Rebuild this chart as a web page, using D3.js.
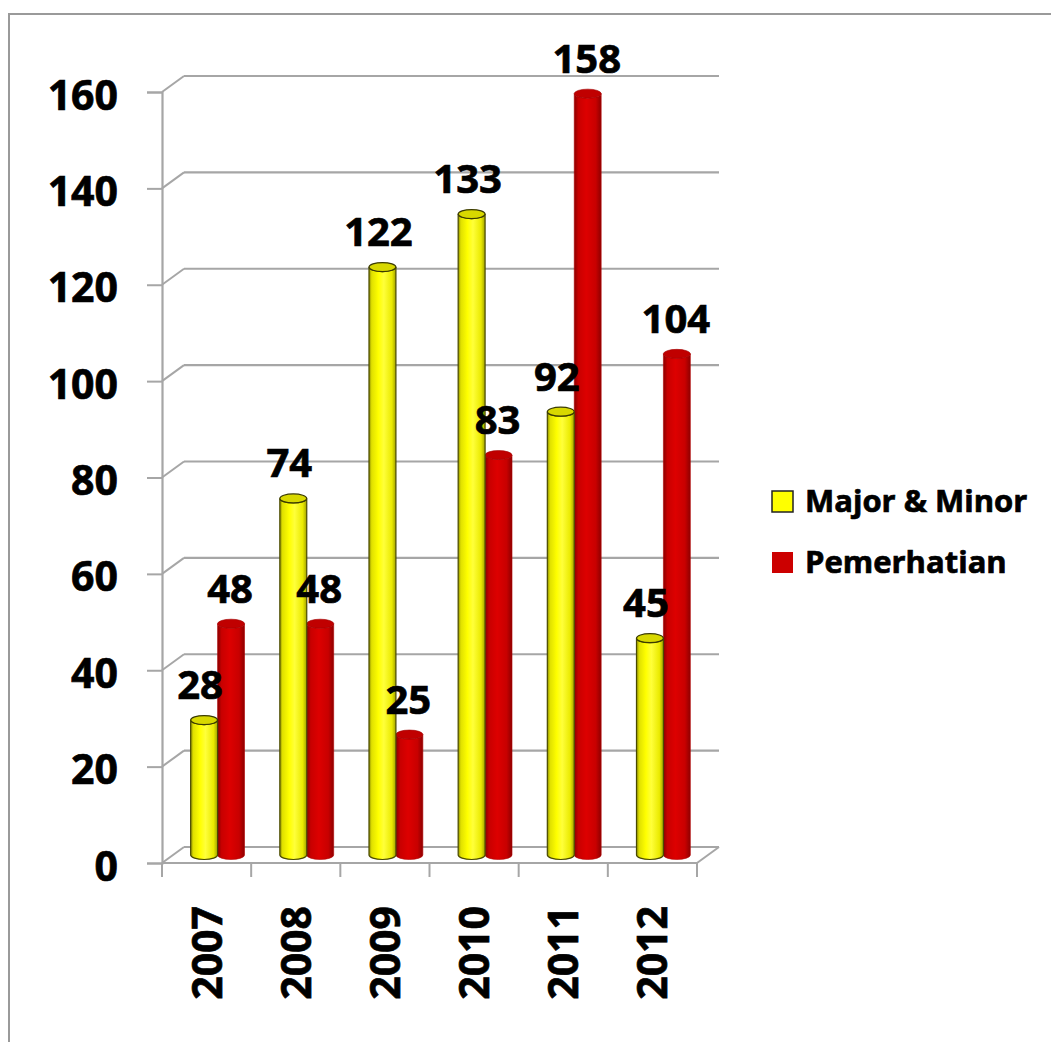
<!DOCTYPE html>
<html>
<head>
<meta charset="utf-8">
<script src="https://cdnjs.cloudflare.com/ajax/libs/d3/7.8.5/d3.min.js"></script>
<style>
	body { margin: 0; background: #fff; }
	text { font-family: "Open Sans", "Liberation Sans", sans-serif; font-weight: bold; fill: #000; stroke: #000; stroke-width: 0.7px; }
</style>
</head>
<body>
<div id="chartZone"></div>
<script>
var years = ['2007', '2008', '2009', '2010', '2011', '2012'];
var seriesNames = ['Major & Minor', 'Pemerhatian'];
var majorMinor = [28, 74, 122, 133, 92, 45];
var pemerhatian = [48, 48, 25, 83, 158, 104];
var yTicks = [0, 20, 40, 60, 80, 100, 120, 140, 160];

var width = 1051, height = 1042;
// depth of the fake 3d box
var depthX = 22, depthY = -16;

var svg = d3.select('#chartZone').append('svg')
	.attr('width', width)
	.attr('height', height);

var defs = svg.append('defs');

function addGradient(id, stops){
	var g = defs.append('linearGradient')
		.attr('id', id)
		.attr('x1', '0%').attr('x2', '100%')
		.attr('y1', '0%').attr('y2', '0%');
	g.selectAll('stop')
		.data(stops)
		.enter()
		.append('stop')
		.attr('offset', function(d){ return d[0]; })
		.attr('stop-color', function(d){ return d[1]; });
}
addGradient('gradYellow', [['0%', '#8f8f00'], ['10%', '#e0e000'], ['35%', '#ffff00'], ['55%', '#ffff3a'], ['85%', '#eaea00'], ['100%', '#a3a300']]);
addGradient('gradRed', [['0%', '#8a0000'], ['15%', '#c80000'], ['45%', '#dd0000'], ['80%', '#c80000'], ['100%', '#8e0000']]);

// outer frame
svg.append('rect')
	.attr('x', 9).attr('y', 14)
	.attr('width', 1100).attr('height', 1100)
	.attr('fill', 'none')
	.attr('stroke', '#9a9a9a')
	.attr('stroke-width', 2);

var yFront = d3.scaleLinear().domain([0, 160]).range([863, 92]);
var xBand = d3.scaleBand().domain(years).range([162, 697]);
var xInner = d3.scaleBand().domain(seriesNames)
	.range([xBand.bandwidth()*0.198, xBand.bandwidth()*0.802]);

var xLeft = xBand.range()[0], xRight = xBand.range()[1];
var gridColor = '#a6a6a6';

// back wall grid lines and left wall connectors
var grid = svg.append('g');
grid.selectAll('line.back')
	.data(yTicks)
	.enter()
	.append('line')
	.attr('x1', xLeft + depthX)
	.attr('x2', xRight + depthX)
	.attr('y1', function(d){ return yFront(d) + depthY; })
	.attr('y2', function(d){ return yFront(d) + depthY; })
	.attr('stroke', gridColor)
	.attr('stroke-width', 2.2);
grid.selectAll('line.side')
	.data(yTicks)
	.enter()
	.append('line')
	.attr('x1', xLeft)
	.attr('x2', xLeft + depthX)
	.attr('y1', function(d){ return yFront(d); })
	.attr('y2', function(d){ return yFront(d) + depthY; })
	.attr('stroke', gridColor)
	.attr('stroke-width', 2);

// floor front edge and right corner
grid.append('line')
	.attr('x1', xLeft).attr('x2', xRight)
	.attr('y1', yFront(0)).attr('y2', yFront(0))
	.attr('stroke', gridColor).attr('stroke-width', 2.2);
grid.append('line')
	.attr('x1', xRight).attr('x2', xRight + depthX)
	.attr('y1', yFront(0)).attr('y2', yFront(0) + depthY)
	.attr('stroke', gridColor).attr('stroke-width', 2);

// value axis
var yAxis = svg.append('g').attr('transform', 'translate(' + xLeft + ',0)')
	.call(d3.axisLeft(yFront).tickValues(yTicks).tickSize(15).tickPadding(30));
yAxis.select('.domain').attr('stroke', gridColor).attr('stroke-width', 2.2);
yAxis.selectAll('.tick line').attr('stroke', gridColor).attr('stroke-width', 2);
yAxis.selectAll('.tick text')
	.attr('font-size', 41)
	.attr('font-family', '"Open Sans", sans-serif')
	.attr('font-weight', 'bold')
	.attr('fill', '#000')
	.attr('dy', 17)
	.attr('x', -44);

// category axis
var xAxis = svg.append('g').attr('transform', 'translate(0,' + yFront(0) + ')')
	.call(d3.axisBottom(xBand).tickSize(0).tickPadding(0));
xAxis.select('.domain').remove();
xAxis.selectAll('.tick text')
	.attr('font-size', 41)
	.attr('font-family', '"Open Sans", sans-serif')
	.attr('font-weight', 'bold')
	.attr('fill', '#000')
	.attr('text-anchor', 'end')
	.attr('y', 0)
	.attr('dy', 0)
	.attr('transform', 'translate(15,43) rotate(-90)');
svg.append('g').selectAll('line')
	.data(d3.range(years.length + 1))
	.enter()
	.append('line')
	.attr('x1', function(d){ return xLeft + d*xBand.step(); })
	.attr('x2', function(d){ return xLeft + d*xBand.step(); })
	.attr('y1', yFront(0))
	.attr('y2', yFront(0) + 14)
	.attr('stroke', gridColor)
	.attr('stroke-width', 2);

// bars sit half way into the box
var barRows = [];
for(var i=0; i<years.length; i++){
	barRows.push({year: years[i], series: seriesNames[1], value: pemerhatian[i]});
	barRows.push({year: years[i], series: seriesNames[0], value: majorMinor[i]});
}
function barX(d){ return xBand(d.year) + depthX/2 + xInner(d.series); }
function barBase(){ return yFront(0) + depthY/2; }
function barTop(d){ return yFront(d.value) + depthY/2; }

var rx = xInner.bandwidth()/2, ry = 4.5;
function cylinderPath(d){
	var x0 = barX(d), x1 = x0 + xInner.bandwidth();
	var yt = barTop(d), yb = barBase();
	return 'M' + x0 + ',' + yt + ' L' + x0 + ',' + yb +
		' A' + rx + ',' + ry + ' 0 0 0 ' + x1 + ',' + yb +
		' L' + x1 + ',' + yt +
		' A' + rx + ',' + ry + ' 0 0 1 ' + x0 + ',' + yt + ' Z';
}

var bars = svg.append('g').selectAll('g')
	.data(barRows)
	.enter()
	.append('g');
bars.append('path')
	.attr('d', cylinderPath)
	.attr('fill', function(d){ return d.series == seriesNames[0] ? 'url(#gradYellow)' : 'url(#gradRed)'; })
	.attr('stroke', function(d){ return d.series == seriesNames[0] ? '#4a4a00' : '#b00000'; })
	.attr('stroke-width', function(d){ return d.series == seriesNames[0] ? 1.2 : 0.6; });
bars.append('ellipse')
	.attr('cx', function(d){ return barX(d) + rx; })
	.attr('cy', barTop)
	.attr('rx', rx)
	.attr('ry', ry)
	.attr('fill', function(d){ return d.series == seriesNames[0] ? '#d8d800' : '#c00000'; })
	.attr('stroke', function(d){ return d.series == seriesNames[0] ? '#3a3a00' : '#a00000'; })
	.attr('stroke-width', function(d){ return d.series == seriesNames[0] ? 1.2 : 0.6; });

// value labels on top of everything
svg.append('g').selectAll('text')
	.data(barRows)
	.enter()
	.append('text')
	.attr('x', function(d){ return barX(d) + rx - (d.series == seriesNames[0] ? 4 : 1); })
	.attr('y', function(d){ return barTop(d) - 21; })
	.attr('text-anchor', 'middle')
	.attr('font-size', 40)
	.text(function(d){ return d.value; });

// legend
var legendColors = ['#ffff00', '#cc0000'];
var legend = svg.append('g').selectAll('g')
	.data(seriesNames)
	.enter()
	.append('g')
	.attr('transform', function(d, i){ return 'translate(772,' + (491 + i*61) + ')'; });
legend.append('rect')
	.attr('width', 21)
	.attr('height', 21)
	.attr('fill', function(d, i){ return legendColors[i]; })
	.attr('stroke', function(d, i){ return i == 0 ? '#222' : 'none'; })
	.attr('stroke-width', 1.5);
legend.append('text')
	.attr('x', 33)
	.attr('y', 21)
	.attr('font-size', 31)
	.text(function(d){ return d; });
</script>
</body>
</html>
